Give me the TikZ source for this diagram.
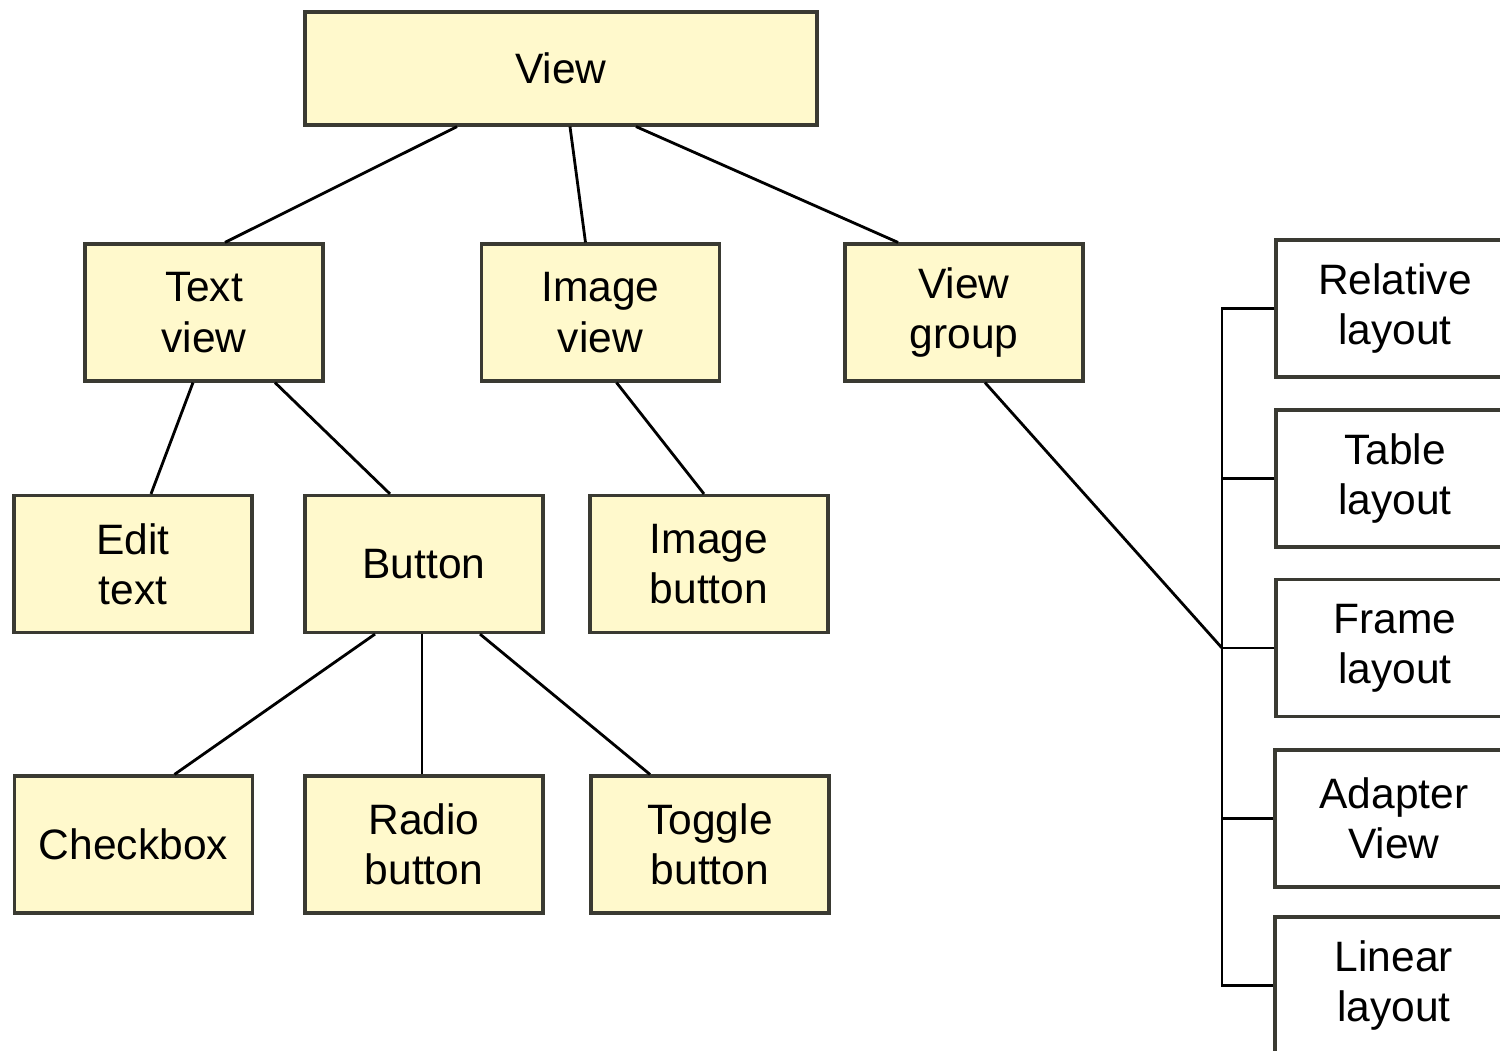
\documentclass[tikz,border=0pt]{standalone}
\usepackage{fontspec}
\setmainfont{Liberation Sans}
\usepackage{tikz}
\usetikzlibrary{calc}

\definecolor{classfill}{HTML}{FFF9CC}
\definecolor{classedge}{HTML}{3A3A32}

\tikzset{
  classbox/.style={draw=classedge, line width=0.9pt, fill=classfill, align=center,
    minimum width=2.38cm, minimum height=1.37cm, inner sep=0pt,
    font=\fontsize{12.1}{14.3}\selectfont},
  layoutbox/.style={classbox, fill=white},
  link/.style={line width=0.8pt, black}
}

\begin{document}
\begin{tikzpicture}
    % page frame
    \clip (0,0) rectangle (15,-10.5);

    % Root
    \node[classbox, minimum width=5.12cm, minimum height=1.13cm] (view) at (5.61,-0.685) {View};

    % Second level
    \node[classbox] (textview) at (2.04,-3.125) {Text\\view};
    \node[classbox] (imageview) at (6.005,-3.125) {Image\\view};
    \node[classbox] (viewgroup) at (9.64,-3.125) {View\\group};

    % Widgets
    \node[classbox] (edittext) at (1.33,-5.64) {Edit\\text};
    \node[classbox] (button) at (4.24,-5.64) {Button};
    \node[classbox] (imagebutton) at (7.09,-5.64) {Image\\button};
    \node[classbox] (checkbox) at (1.335,-8.445) {Checkbox};
    \node[classbox] (radiobutton) at (4.24,-8.445) {Radio\\button};
    \node[classbox] (togglebutton) at (7.10,-8.445) {Toggle\\button};

    % Layouts (run off the right edge)
    \node[layoutbox] (relative) at (13.95,-3.085) {Relative\\layout};
    \node[layoutbox] (table) at (13.95,-4.785) {Table\\layout};
    \node[layoutbox] (frame) at (13.95,-6.48) {Frame\\layout};
    \node[layoutbox] (adapter) at (13.94,-8.185) {Adapter\\View};
    \node[layoutbox] (linear) at (13.94,-9.855) {Linear\\layout};

    \coordinate (bus) at (12.22,-6.48);

    % Tree links
    \draw[link] ([xshift=-1.04cm]view.south) -- ([xshift=0.21cm]textview.north);
    \draw[link] ([xshift=0.09cm]view.south) -- ([xshift=-0.15cm]imageview.north);
    \draw[link] ([xshift=0.75cm]view.south) -- ([xshift=-0.66cm]viewgroup.north);
    \draw[link] ([xshift=-0.11cm]textview.south) -- ([xshift=0.18cm]edittext.north);
    \draw[link] ([xshift=0.71cm]textview.south) -- ([xshift=-0.34cm]button.north);
    \draw[link] ([xshift=0.16cm]imageview.south) -- ([xshift=-0.05cm]imagebutton.north);
    \draw[link] ([xshift=-0.49cm]button.south) -- ([xshift=0.41cm]checkbox.north);
    \draw[link] ([xshift=-0.02cm]button.south) -- ([xshift=-0.02cm]radiobutton.north);
    \draw[link] ([xshift=0.56cm]button.south) -- ([xshift=-0.60cm]togglebutton.north);
    \draw[link] ([xshift=0.21cm]viewgroup.south) -- (bus);

    % Bus to the layouts
    \draw[link] (relative.west) -| (bus) |- (linear.west);
    \foreach \n in {table, frame, adapter}
      \draw[link] (\n.west) -- (\n.west -| bus);

\end{tikzpicture}
\end{document}
